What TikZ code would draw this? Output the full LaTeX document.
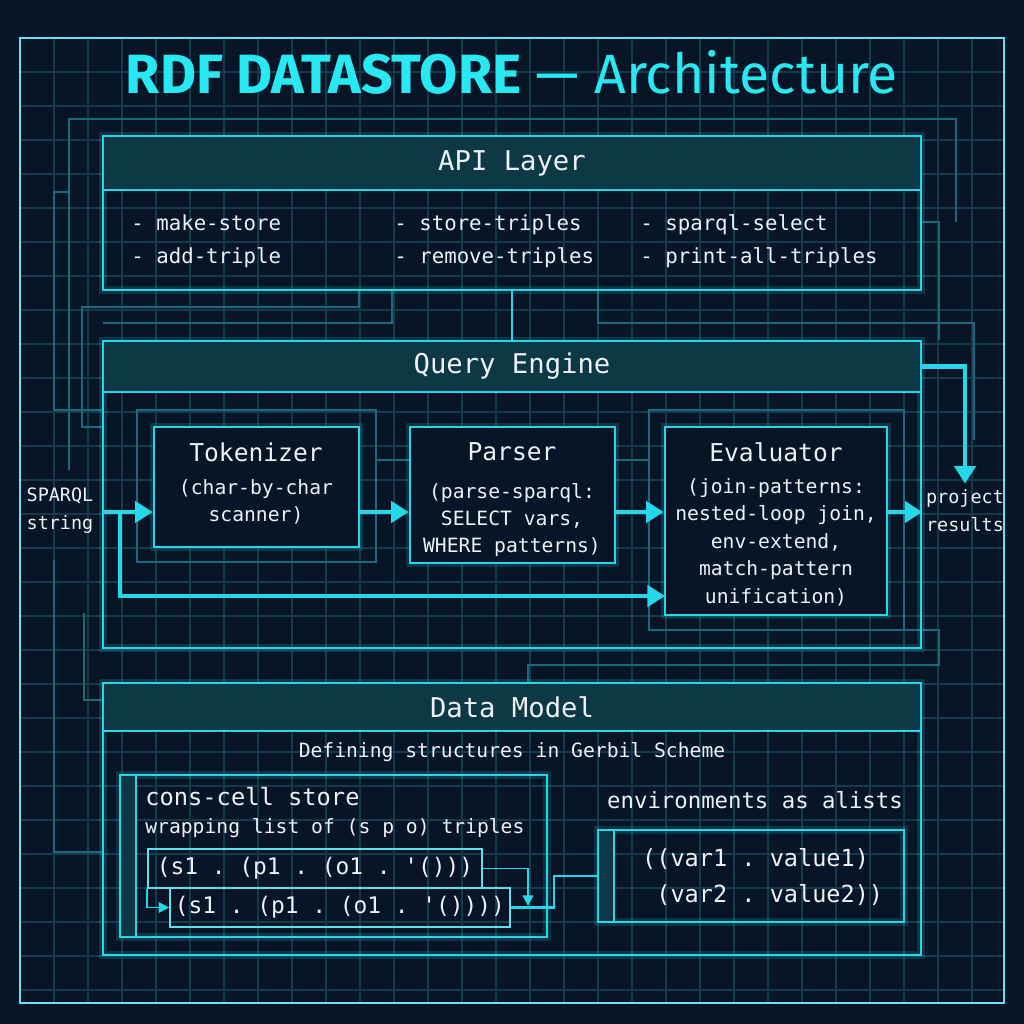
\documentclass[tikz,border=0pt]{standalone}
\usepackage{fontspec}
\setmainfont{Fira Sans}
\setmonofont{DejaVu Sans Mono}
\usepackage{tikz}
\usetikzlibrary{arrows.meta,positioning,calc,fit}
\newcommand{\fsz}[2]{\fontsize{#1}{#2}\selectfont}
\definecolor{clrBg}{RGB}{7,21,38}
\definecolor{clrGrid}{RGB}{20,58,76}
\definecolor{clrCy}{RGB}{38,214,235}
\definecolor{clrTi}{RGB}{40,232,242}
\definecolor{clrHd}{RGB}{13,56,70}
\definecolor{clrTx}{RGB}{236,242,246}
\definecolor{clrTrace}{RGB}{28,104,124}
\tikzset{
  glow/.style={preaction={draw=clrCy,line width=4.5pt,opacity=0.16}},
  layer/.style={rectangle,draw=clrCy,line width=1.5pt,inner sep=0pt,glow},
  band/.style={rectangle,draw=clrCy,fill=clrHd,line width=1.5pt,inner sep=0pt},
  ltitle/.style={font=\ttfamily\fsz{15.5}{18},text=clrTx},
  stagebox/.style={rectangle,draw=clrCy,line width=1.5pt,fill=clrBg,inner sep=0pt,glow},
  stitle/.style={font=\ttfamily\fsz{14}{17},text=clrTx},
  sbody/.style={font=\ttfamily\fsz{11.2}{15.6},text=clrTx,align=center},
  item/.style={font=\ttfamily\fsz{11.8}{14},text=clrTx,anchor=base west,inner sep=0pt},
  side/.style={font=\ttfamily\fsz{10.5}{16},text=clrTx,align=center},
  cell/.style={rectangle,draw=clrCy!75,line width=0.9pt,inner sep=0pt},
  stripe/.style={rectangle,draw=clrCy,fill=clrHd,line width=1.2pt,inner sep=0pt},
  code/.style={font=\ttfamily\fsz{13}{20},text=clrTx},
  flow/.style={-{Triangle[length=10pt,width=12pt]},line width=2.6pt,draw=clrCy},
  link/.style={line width=1.2pt,draw=clrCy},
  tinyflow/.style={-{Triangle[length=6pt,width=6pt]},line width=0.9pt,draw=clrCy},
  trace/.style={draw=clrTrace,line width=0.8pt}
}
\begin{document}
\begin{tikzpicture}[x=0.02cm,y=-0.02cm]
  \useasboundingbox (0,0) rectangle (1024,1024);
  \fill[clrBg] (0,0) rectangle (1024,1024);
  % grid
  \foreach \gx in {20,54,...,1004}
    \draw[clrGrid,line width=0.6pt] (\gx,38) -- (\gx,1003);
  \foreach \gy in {38,72,...,1003}
    \draw[clrGrid,line width=0.6pt] (20,\gy) -- (1004,\gy);
  \draw[clrCy!70,line width=1pt] (20,38) rectangle (1004,1003);
  % faint traces
  \draw[trace] (69,470) -- (69,119) -- (956,119) -- (956,222);
  \draw[trace] (54,410) -- (54,192) -- (69,192);
  \draw[trace] (54,410) -- (103,410);
  \draw[trace] (921,222) -- (939,222) -- (939,340);
  \draw[trace] (359,290) -- (359,307) -- (82,307) -- (82,427) -- (103,427);
  \draw[trace] (392,290) -- (392,323) -- (103,323);
  \draw[trace] (598,290) -- (598,323) -- (974,323) -- (974,440);
  \draw[trace] (137,410) rectangle (376,562);
  \draw[trace] (376,460) -- (410,460) (615,460) -- (649,460);
  \draw[trace] (649,410) rectangle (904,630);
  \draw[trace] (904,630) -- (939,630) -- (939,665) -- (528,665) -- (528,683);
  \draw[trace] (84,613) -- (84,700) -- (103,700);
  \draw[trace] (54,560) -- (54,852) -- (103,852);
  % title
  \node[font=\fsz{31.5}{38},text=clrTi] (title) at (512,72)
    {\textbf{RDF DATASTORE} — Architecture};
  % API layer
  \node[layer,fit={(103,136) (921,290)}] (api) {};
  \node[band,fit={(103,136) (921,190)}] (apihd) {};
  \node[ltitle] at (apihd.center) {API Layer};
  \node[item] (i1) at (131,230) {- make-store};
  \node[item] (i2) at (131,263) {- add-triple};
  \node[item] (i3) at (394,230) {- store-triples};
  \node[item] (i4) at (394,263) {- remove-triples};
  \node[item] (i5) at (640,230) {- sparql-select};
  \node[item] (i6) at (640,263) {- print-all-triples};
  % query engine
  \node[layer,fit={(103,341) (921,648)}] (qe) {};
  \node[band,fit={(103,341) (921,392)}] (qehd) {};
  \node[ltitle] at (qehd.center) {Query Engine};
  \node[stagebox,fit={(154,427) (359,547)}] (tok) {};
  \node[stitle] at (256,452) {Tokenizer};
  \node[sbody] at (256,502) {(char-by-char\\scanner)};
  \node[stagebox,fit={(410,427) (615,563)}] (par) {};
  \node[stitle] at (512,452) {Parser};
  \node[sbody] at (512,520) {(parse-sparql:\\SELECT vars,\\WHERE patterns)};
  \node[stagebox,fit={(665,427) (887,615)}] (eva) {};
  \node[stitle] at (776,452) {Evaluator};
  \node[sbody] at (776,542)
    {(join-patterns:\\nested-loop join,\\env-extend,\\match-pattern\\unification)};
  \node[side] (sparql) at (60,511) {SPARQL\\string};
  \node[side] (res) at (965,511) {project\\results};
  \coordinate (in) at (103,512);
  \coordinate (split) at (120,512);
  \coordinate (byp) at (665,596);
  \draw[link] (api.south) -- (qe.north);
  \draw[flow] (in) -- (tok.west |- in);
  \draw[flow] (tok.east |- in) -- (par.west |- in);
  \draw[flow] (par.east |- in) -- (eva.west |- in);
  \draw[flow] (eva.east |- in) -- (qe.east |- in);
  \draw[flow] (split) |- (byp);
  \draw[flow] (qehd.east) -| (res.north);
  % data model
  \node[layer,fit={(103,683) (921,955)}] (dm) {};
  \node[band,fit={(103,683) (921,731)}] (dmhd) {};
  \node[ltitle] at (dmhd.center) {Data Model};
  \node[side,font=\ttfamily\fsz{11.2}{14}] (sub) at (512,752) {Defining structures in Gerbil Scheme};
  \node[layer,line width=1.3pt,fit={(120,775) (547,937)}] (cons) {};
  \node[stripe,fit={(120,775) (136,937)}] {};
  \node[item,font=\ttfamily\fsz{13.5}{16}] at (145,805) {cons-cell store};
  \node[item,font=\ttfamily\fsz{11.2}{14}] at (145,833) {wrapping list of (s p o) triples};
  \node[cell,fit={(148,849) (482,888)}] (t1) {};
  \node[code] at (t1.center) {(s1 . (p1 . (o1 . '()))};
  \node[cell,fit={(170,888) (510,927)}] (t2) {};
  \node[code] at (t2.center) {(s1 . (p1 . (o1 . '())))};
  \coordinate (drop) at (528,906);
  \draw[tinyflow] (t1.east) -| (drop);
  \draw[tinyflow] (t1.south west) |- (t2.west);
  \node[font=\ttfamily\fsz{12.7}{15},text=clrTx] (envt) at (755,800) {environments as alists};
  \node[layer,line width=1.3pt,fit={(598,830) (904,922)}] (env) {};
  \node[stripe,fit={(598,830) (614,922)}] {};
  \node[code,font=\ttfamily\fsz{13.4}{20},align=left,anchor=west] at (636,877)
    {((var1 . value1)\\\hphantom{(}(var2 . value2))};
  \draw[link] (t2.east) -| ($(t2.east)!0.5!(env.west)$) |- (env.west);
\end{tikzpicture}
\end{document}
